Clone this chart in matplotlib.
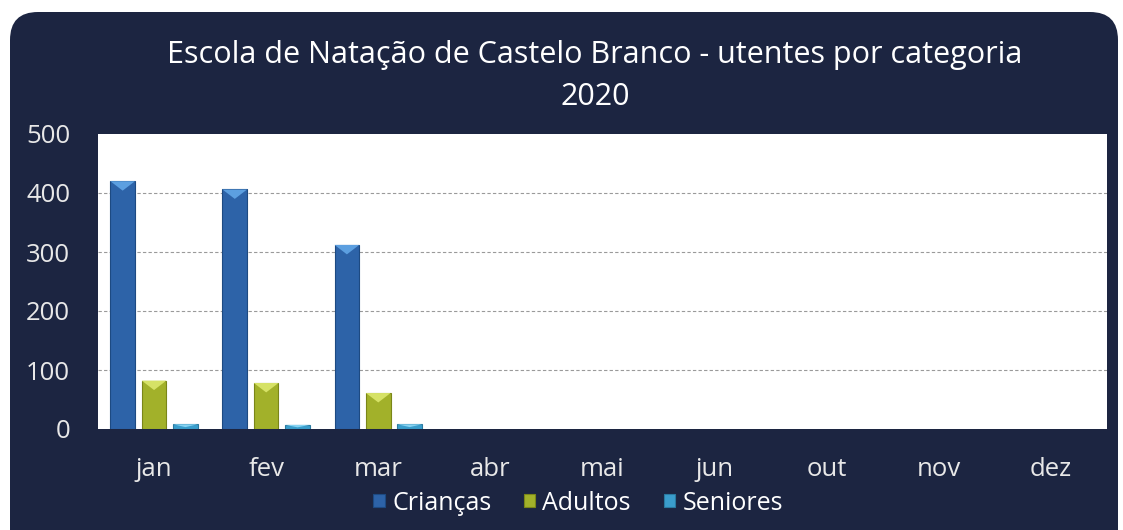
import numpy as np
import matplotlib
matplotlib.use('Agg')
import matplotlib.pyplot as plt
from matplotlib.patches import FancyBboxPatch, Polygon

plt.rcParams['font.family'] = ['Open Sans', 'DejaVu Sans']

# data
months = ['jan', 'fev', 'mar', 'abr', 'mai', 'jun', 'out', 'nov', 'dez']
criancas = [420, 406, 312, np.nan, np.nan, np.nan, np.nan, np.nan, np.nan]
adultos = [82, 78, 61, np.nan, np.nan, np.nan, np.nan, np.nan, np.nan]
seniores = [8, 7, 8, np.nan, np.nan, np.nan, np.nan, np.nan, np.nan]

series = [
    ('Crianças', criancas, '#2d63a8', '#5c9fe0', '#1d4a82'),
    ('Adultos', adultos, '#a2b12a', '#d6e266', '#7a8618'),
    ('Seniores', seniores, '#3a9dcc', '#86d3f2', '#2a7aa0'),
]

W, H = 1123, 530
fig = plt.figure(figsize=(W / 100, H / 100), dpi=100)
fig.patch.set_facecolor('white')

# dark rounded panel behind everything
bg = fig.add_axes([0, 0, 1, 1], zorder=-10)
bg.set_xlim(0, W)
bg.set_ylim(0, H)
bg.axis('off')
bg.add_patch(FancyBboxPatch((10, -40), 1108, H - 12 + 40,
                            boxstyle='round,pad=0,rounding_size=28',
                            facecolor='#1c2541', edgecolor='none'))

ax = fig.add_axes([98 / W, 101 / H, 1009 / W, 295 / H])
ax.set_facecolor('white')
x = np.arange(len(months))
width = 0.22
step = 0.28
tri = 16  # depth of the bevel on top of each bar, in data units

for i, (name, vals, col, light, edge) in enumerate(series):
    bars = ax.bar(x + (i - 1) * step, vals, width, color=col, edgecolor=edge,
                  linewidth=0.8, label=name, zorder=3)
    for b in bars:
        h = b.get_height()
        if not np.isfinite(h) or h <= 0:
            continue
        x0, w = b.get_x(), b.get_width()
        d = min(tri, h * 0.6)
        ax.add_patch(Polygon([(x0, h), (x0 + w, h), (x0 + w / 2, h - d)],
                             closed=True, facecolor=light, edgecolor='none',
                             zorder=4))

ax.set_xlim(-0.5, len(months) - 0.5)
ax.set_ylim(0, 500)
ax.set_yticks(range(0, 501, 100))
ax.set_xticks(x)
ax.set_xticklabels(months)
ax.yaxis.grid(True, color='#9a9a9a', linestyle=(0, (3, 2)), linewidth=0.8, zorder=0)
ax.yaxis.get_gridlines()[-1].set_visible(False)
ax.yaxis.get_gridlines()[0].set_visible(False)
ax.set_axisbelow(True)
for s in ax.spines.values():
    s.set_visible(False)
ax.tick_params(axis='both', length=0, colors='#e8e8e8', labelsize=18.5)
ax.tick_params(axis='y', pad=20)
ax.tick_params(axis='x', pad=20)

title_x = 595 / W
fig.text(title_x, 1 - 55 / H, 'Escola de Natação de Castelo Branco - utentes por categoria',
         ha='center', va='center', color='white', fontsize=22)
fig.text(title_x, 1 - 97 / H, '2020', ha='center', va='center', color='white', fontsize=22)

leg = fig.legend(loc='center', bbox_to_anchor=(578 / W, 1 - 503 / H), ncol=3,
                 frameon=False, fontsize=18, handlelength=0.45, handleheight=0.45,
                 handletextpad=0.3, columnspacing=1.3)
for t in leg.get_texts():
    t.set_color('white')

fig.savefig('out.png', dpi=100, facecolor=fig.get_facecolor())
